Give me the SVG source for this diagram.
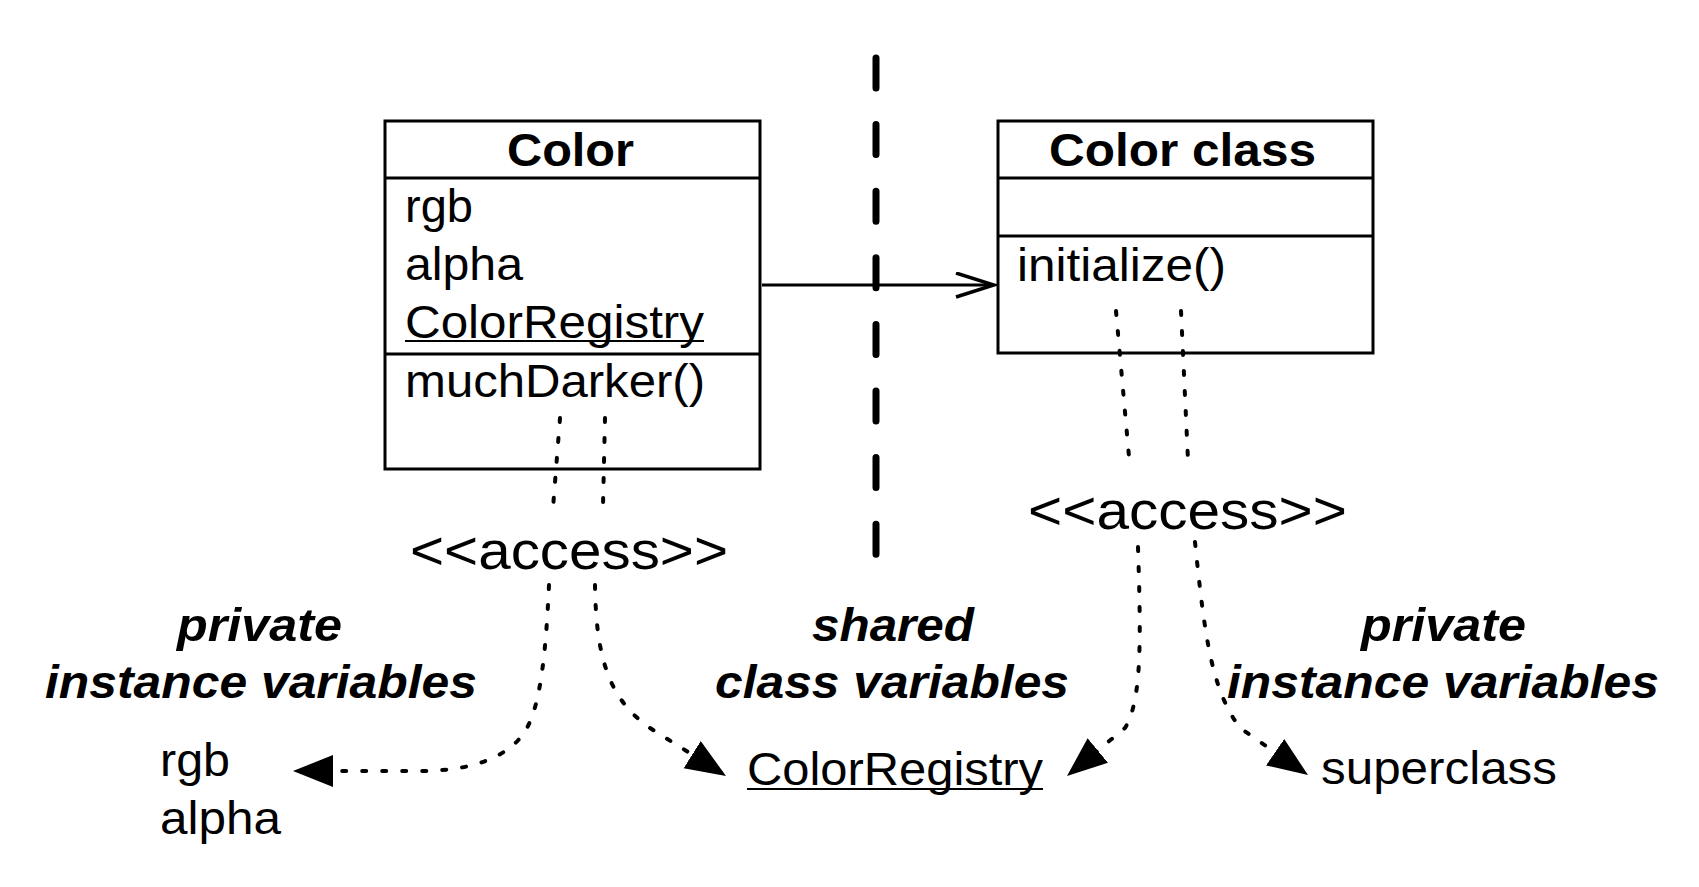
<svg xmlns="http://www.w3.org/2000/svg" width="1699" height="887" viewBox="0 0 1699 887">
<style>
.box{fill:#fff;stroke:#000;stroke-width:3}
.div{stroke:#000;stroke-width:3}
.t{font-family:"Liberation Sans",Arial,Helvetica,sans-serif;font-size:46px;fill:#000}
.b{font-weight:bold}
.bi{font-weight:bold;font-style:italic}
.acc{font-size:54px}
.ul{stroke:#000;stroke-width:2}
.dot{fill:none;stroke:#000;stroke-width:4;stroke-linecap:round;stroke-dasharray:4 16}
.solid{fill:none;stroke:#000;stroke-width:3}
.sep{fill:none;stroke:#000;stroke-width:7;stroke-linecap:round;stroke-dasharray:30 36.6}
</style>
<defs>
<marker id="tri" markerUnits="userSpaceOnUse" markerWidth="42" markerHeight="34" refX="40" refY="16" orient="auto" viewBox="0 0 42 34">
<path d="M0,0 L40,16 L0,32 Z" fill="#000"/>
</marker>
<marker id="open" markerUnits="userSpaceOnUse" markerWidth="44" markerHeight="30" refX="40" refY="13" orient="auto" viewBox="0 0 44 30">
<path d="M2,1 L40,13 L2,25" fill="none" stroke="#000" stroke-width="3.5"/>
</marker>
</defs>
<g id="separator">
<line class="sep" x1="876" y1="58" x2="876" y2="560"/>
</g>
<g id="node-color">
<rect class="box" x="385" y="121" width="375" height="348"/>
<line class="div" x1="385" y1="178" x2="760" y2="178"/>
<line class="div" x1="385" y1="354" x2="760" y2="354"/>
<text class="t b" x="507" y="166" textLength="127" lengthAdjust="spacingAndGlyphs">Color</text>
<text class="t" x="405" y="222" textLength="68" lengthAdjust="spacingAndGlyphs">rgb</text>
<text class="t" x="405" y="280" textLength="118" lengthAdjust="spacingAndGlyphs">alpha</text>
<text class="t" x="405" y="338" textLength="299" lengthAdjust="spacingAndGlyphs">ColorRegistry</text>
<line class="ul" x1="405" y1="341" x2="704" y2="341"/>
<text class="t" x="405" y="397" textLength="300" lengthAdjust="spacingAndGlyphs">muchDarker()</text>
</g>
<g id="node-colorclass">
<rect class="box" x="998" y="121" width="375" height="232"/>
<line class="div" x1="998" y1="178" x2="1373" y2="178"/>
<line class="div" x1="998" y1="236" x2="1373" y2="236"/>
<text class="t b" x="1049" y="166" textLength="267" lengthAdjust="spacingAndGlyphs">Color class</text>
<text class="t" x="1017" y="281" textLength="209" lengthAdjust="spacingAndGlyphs">initialize()</text>
</g>
<g id="access-left">
<text class="t acc" x="410" y="569" textLength="318" lengthAdjust="spacingAndGlyphs">&lt;&lt;access&gt;&gt;</text>
</g>
<g id="access-right">
<text class="t acc" x="1028" y="529" textLength="319" lengthAdjust="spacingAndGlyphs">&lt;&lt;access&gt;&gt;</text>
</g>
<g id="label-private-left">
<text class="t bi" x="177" y="641" textLength="165" lengthAdjust="spacingAndGlyphs">private</text>
<text class="t bi" x="45" y="698" textLength="432" lengthAdjust="spacingAndGlyphs">instance variables</text>
</g>
<g id="label-shared">
<text class="t bi" x="812" y="641" textLength="162" lengthAdjust="spacingAndGlyphs">shared</text>
<text class="t bi" x="715" y="698" textLength="354" lengthAdjust="spacingAndGlyphs">class variables</text>
</g>
<g id="label-private-right">
<text class="t bi" x="1361" y="641" textLength="165" lengthAdjust="spacingAndGlyphs">private</text>
<text class="t bi" x="1227" y="698" textLength="432" lengthAdjust="spacingAndGlyphs">instance variables</text>
</g>
<g id="node-rgb-alpha">
<text class="t" x="160" y="776" textLength="70" lengthAdjust="spacingAndGlyphs">rgb</text>
<text class="t" x="160" y="834" textLength="121" lengthAdjust="spacingAndGlyphs">alpha</text>
</g>
<g id="node-colorregistry">
<text class="t" x="747" y="785" textLength="296" lengthAdjust="spacingAndGlyphs">ColorRegistry</text>
<line class="ul" x1="747" y1="789" x2="1043" y2="789"/>
</g>
<g id="node-superclass">
<text class="t" x="1321" y="784" textLength="236" lengthAdjust="spacingAndGlyphs">superclass</text>
</g>
<g id="connectors">
<line class="solid" x1="762" y1="285" x2="994" y2="285" marker-end="url(#open)"/>
<line class="dot" x1="560" y1="418" x2="553" y2="508"/>
<line class="dot" x1="605" y1="418" x2="603" y2="506"/>
<line class="dot" x1="1116" y1="311" x2="1130" y2="468"/>
<line class="dot" x1="1181" y1="311" x2="1188" y2="460"/>
<path class="dot" d="M549,585 C546,650 541,700 528,726 C512,758 470,771 420,771 L293,771" marker-end="url(#tri)"/>
<path class="dot" d="M595,585 C596,660 610,700 650,728 L726,776" marker-end="url(#tri)"/>
<path class="dot" d="M1138,547 C1141,640 1142,700 1125,728 L1067,776" marker-end="url(#tri)"/>
<path class="dot" d="M1195,542 C1205,640 1212,690 1240,728 L1308,775" marker-end="url(#tri)"/>
</g>
</svg>
